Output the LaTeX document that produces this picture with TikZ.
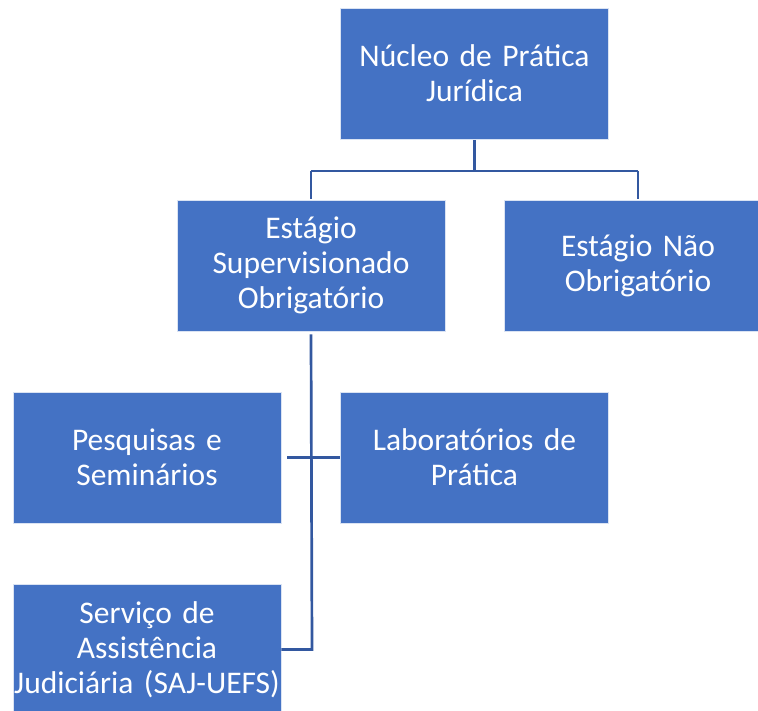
\documentclass[tikz,border=0pt]{standalone}
\usepackage{fontspec}
\setmainfont{Carlito}
\definecolor{boxblue}{HTML}{4472C4}
\definecolor{linkblue}{HTML}{3358A0}
\begin{document}
\begin{tikzpicture}[x=1pt,y=-1pt,
  orgbox/.style={fill=boxblue,draw=white!80!boxblue,line width=0.8pt,
    minimum width=268pt,minimum height=131pt,text width=268pt,inner sep=0pt,
    align=center,text=white,font=\fontsize{31.5}{35}\selectfont},
  link/.style={draw=linkblue,line width=2.7pt}]
\useasboundingbox (0,0) rectangle (758,711);
\clip (0,0) rectangle (758,711);
\node[orgbox] (npj) at (474.5,73.5) {Núcleo de Prática\\Jurídica};
\node[orgbox] (eso) at (311,265.5) {Estágio\\Supervisionado\\Obrigatório};
\node[orgbox] (eno) at (638,265.5) {Estágio Não\\Obrigatório};
\node[orgbox] (ps) at (147,457.5) {Pesquisas e\\Seminários};
\node[orgbox] (lp) at (474.5,457.5) {Laboratórios de\\Prática};
\node[orgbox] (saj) at (147,649.5) {Serviço de\\Assistência\\Judiciária (SAJ-UEFS)};
\coordinate (hub) at (474.5,171);
\coordinate (spine) at (312,649.5);
\draw[link] ([yshift=-1pt]npj.south) -- (hub);
\draw[link] (eso.north |- hub) -- (eno.north |- hub);
\draw[link] (eso.north |- hub) -- ([yshift=1pt]eso.north);
\draw[link] (eno.north |- hub) -- ([yshift=1pt]eno.north);
\draw[link] ([yshift=-3pt]eso.south) -- (spine) -- (saj.east);
\draw[link] ([xshift=6pt]ps.east) -- (lp.west);
\end{tikzpicture}
\end{document}
